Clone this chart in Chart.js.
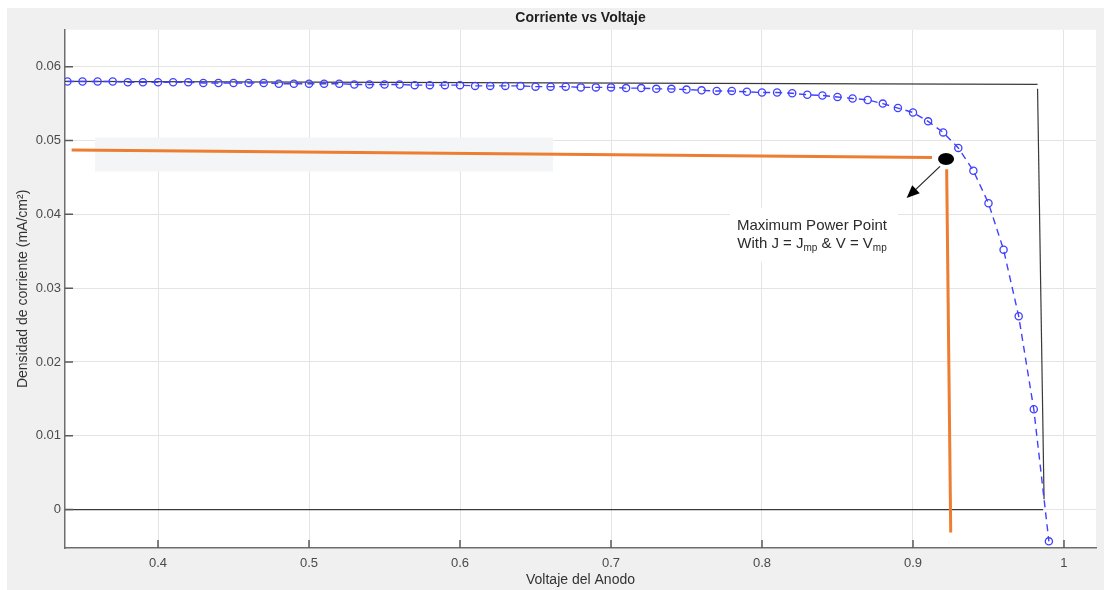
<!DOCTYPE html>
<html>
<head>
<meta charset="utf-8">
<title>Corriente vs Voltaje</title>
<script src="https://cdn.jsdelivr.net/npm/chart.js@4.4.1/dist/chart.umd.min.js"></script>
<style>
  html, body { margin: 0; padding: 0; background: #fff; }
  #wrap { width: 1104px; height: 590px; }
</style>
</head>
<body>
<div id="wrap"><canvas id="ivChart" width="1104" height="590"></canvas></div>
<script>
// Anode voltage sweep (V) and simulated current density (mA/cm²)
const voltage = [
  0.34, 0.35, 0.36, 0.37, 0.38, 0.39, 0.40, 0.41, 0.42, 0.43, 0.44, 0.45,
  0.46, 0.47, 0.48, 0.49, 0.50, 0.51, 0.52, 0.53, 0.54, 0.55,
  0.56, 0.57, 0.58, 0.59, 0.60, 0.61, 0.62, 0.63, 0.64, 0.65,
  0.66, 0.67, 0.68, 0.69, 0.70, 0.71, 0.72, 0.73, 0.74, 0.75,
  0.76, 0.77, 0.78, 0.79, 0.80, 0.81, 0.82, 0.83, 0.84, 0.85,
  0.86, 0.87, 0.88, 0.89, 0.90, 0.91, 0.92, 0.93, 0.94, 0.95,
  0.96, 0.97, 0.98, 0.99
];
const currentDensity = [
  0.0580, 0.0580, 0.0580, 0.0580, 0.0579, 0.0579, 0.0579, 0.0579, 0.0579, 0.0578, 0.0578, 0.0578,
  0.0578, 0.0578, 0.0577, 0.0577, 0.0577, 0.0577, 0.0577, 0.0576, 0.0576, 0.0576,
  0.0576, 0.0575, 0.0575, 0.0575, 0.0575, 0.0574, 0.0574, 0.0574, 0.0574, 0.0573,
  0.0573, 0.0573, 0.0572, 0.0572, 0.0572, 0.0571, 0.0571, 0.0570, 0.0570, 0.0569,
  0.0568, 0.0567, 0.0567, 0.0566, 0.0565, 0.0565, 0.0564, 0.0562, 0.0561, 0.0559,
  0.0557, 0.0555, 0.0550, 0.0544, 0.0538, 0.0526, 0.0511, 0.0490, 0.0459, 0.0415,
  0.0352, 0.0262, 0.0136, -0.0043
];

// ideal (rectangular) J-V outline: top edge, right edge, zero line
const idealTop = [[0.3384, 0.0580], [0.9825, 0.0576]];
const idealEdge = [[0.9825, 0.0570], [0.9868, 0.0014]];
const zeroLine = [[0.3384, 0], [0.9862, 0]];

// maximum power point and its guide lines
const mpp = [0.9219, 0.0475];
const jmpGuide = [[0.3428, 0.0487], [0.9126, 0.0477]];
const vmpGuide = [[0.9223, 0.0461], [0.9250, -0.0031]];
const arrowFrom = [0.9179, 0.0465];
const arrowTo = [0.8958, 0.0422];
const labelAt = [0.8331, 0.0385];
const labelBox = [[0.7788, 0.0409], [0.8901, 0.0336]];
const jmpBand = [[0.3583, 0.0504], [0.6616, 0.0458]];

const xTicks = [0.4, 0.5, 0.6, 0.7, 0.8, 0.9, 1];
const yTicks = [0, 0.01, 0.02, 0.03, 0.04, 0.05, 0.06];

const FONT = '"Liberation Sans", Arial, Helvetica, sans-serif';
const toXY = pairs => pairs.map(([x, y]) => ({ x, y }));

const simple = (pairs, color, width) => ({
  data: toXY(pairs),
  borderColor: color,
  borderWidth: width,
  pointRadius: 0,
  fill: false,
  tension: 0
});

const pix = (chart, [v, j]) => [chart.scales.x.getPixelForValue(v), chart.scales.y.getPixelForValue(j)];

// grey figure frame with white axes box
const frame = {
  id: 'frame',
  beforeDraw(chart) {
    const { ctx, chartArea: a } = chart;
    ctx.save();
    ctx.fillStyle = '#ffffff';
    ctx.fillRect(0, 0, chart.width, chart.height);
    ctx.fillStyle = '#f0f0f0';
    ctx.fillRect(7, 8, chart.width - 7, chart.height - 8);
    ctx.fillStyle = '#ffffff';
    ctx.fillRect(a.left, a.top, a.right - a.left, a.bottom - a.top);
    ctx.restore();
  }
};

const rectFromData = (chart, [p0, p1]) => {
  const [x0, y0] = pix(chart, p0);
  const [x1, y1] = pix(chart, p1);
  return [x0, y0, x1 - x0, y1 - y0];
};

const annotations = {
  id: 'annotations',
  beforeDatasetsDraw(chart) {
    const { ctx } = chart;
    ctx.save();
    ctx.fillStyle = '#f4f5f7';
    ctx.fillRect(...rectFromData(chart, jmpBand));
    ctx.fillStyle = '#ffffff';
    ctx.fillRect(...rectFromData(chart, labelBox));
    ctx.restore();
  },
  afterDatasetsDraw(chart) {
    const { ctx, chartArea: a, scales } = chart;
    ctx.save();

    // inward tick marks
    ctx.strokeStyle = '#5a5a5a';
    ctx.lineWidth = 1.5;
    ctx.beginPath();
    xTicks.forEach(v => {
      const x = scales.x.getPixelForValue(v);
      ctx.moveTo(x, a.bottom);
      ctx.lineTo(x, a.bottom - 8);
    });
    yTicks.forEach(v => {
      const y = scales.y.getPixelForValue(v);
      ctx.moveTo(a.left, y);
      ctx.lineTo(a.left + 8, y);
    });
    ctx.stroke();

    // MPP marker
    const [mx, my] = pix(chart, mpp);
    ctx.fillStyle = '#000';
    ctx.beginPath();
    ctx.ellipse(mx, my, 8, 6, 0, 0, Math.PI * 2);
    ctx.fill();

    // arrow towards label
    const [ax0, ay0] = pix(chart, arrowFrom);
    const [ax1, ay1] = pix(chart, arrowTo);
    const ang = Math.atan2(ay1 - ay0, ax1 - ax0);
    const head = 14;
    ctx.strokeStyle = '#222';
    ctx.lineWidth = 1.2;
    ctx.beginPath();
    ctx.moveTo(ax0, ay0);
    ctx.lineTo(ax1 - Math.cos(ang) * head * 0.8, ay1 - Math.sin(ang) * head * 0.8);
    ctx.stroke();
    ctx.fillStyle = '#000';
    ctx.beginPath();
    ctx.moveTo(ax1, ay1);
    ctx.lineTo(ax1 - head * Math.cos(ang - 0.4), ay1 - head * Math.sin(ang - 0.4));
    ctx.lineTo(ax1 - head * Math.cos(ang + 0.4), ay1 - head * Math.sin(ang + 0.4));
    ctx.closePath();
    ctx.fill();

    // label text, second line with subscripts
    const [lx, ly] = pix(chart, labelAt);
    const big = `15px ${FONT}`;
    const small = `10px ${FONT}`;
    ctx.fillStyle = '#2b2b2b';
    ctx.textBaseline = 'middle';
    ctx.textAlign = 'center';
    ctx.font = big;
    ctx.fillText('Maximum Power Point', lx, ly);

    const parts = [['With J = J', false], ['mp', true], [' & V = V', false], ['mp', true]];
    const widths = parts.map(([t, sub]) => { ctx.font = sub ? small : big; return ctx.measureText(t).width; });
    const total = widths.reduce((s, w) => s + w, 0);
    let x = lx - total / 2;
    const y2 = ly + 18;
    ctx.textAlign = 'left';
    parts.forEach(([t, sub], i) => {
      ctx.font = sub ? small : big;
      ctx.fillText(t, x, sub ? y2 + 5 : y2);
      x += widths[i];
    });

    ctx.restore();
  }
};

const tickFont = { family: FONT, size: 13 };

new Chart(document.getElementById('ivChart'), {
  type: 'line',
  data: {
    datasets: [
      simple(jmpGuide, '#ed7d31', 3),
      simple(vmpGuide, '#ed7d31', 3),
      {
        data: voltage.map((v, i) => ({ x: v, y: currentDensity[i] })),
        borderColor: 'rgb(64, 64, 255)',
        borderWidth: 1.4,
        borderDash: [7, 5],
        pointStyle: 'circle',
        pointRadius: 3.6,
        pointBorderWidth: 1.3,
        pointBorderColor: 'rgb(64, 64, 255)',
        pointBackgroundColor: 'rgba(0, 0, 0, 0)',
        fill: false,
        tension: 0
      },
      simple(idealTop, '#3a3a3a', 1.2),
      simple(idealEdge, '#3a3a3a', 1.2),
      simple(zeroLine, '#3a3a3a', 1.2)
    ]
  },
  options: {
    responsive: false,
    animation: false,
    devicePixelRatio: 1,
    layout: { padding: { left: 7, right: 8, top: 8, bottom: 0 } },
    plugins: {
      legend: { display: false },
      tooltip: { enabled: false },
      title: {
        display: true,
        text: 'Corriente vs Voltaje',
        fullSize: false,
        color: '#1f1f1f',
        font: { family: FONT, size: 14, weight: 'bold' },
        padding: { top: 2, bottom: 3 }
      }
    },
    scales: {
      x: {
        type: 'linear',
        min: 0.3384,
        max: 1.0212,
        afterBuildTicks: s => { s.ticks = xTicks.map(value => ({ value })); },
        afterFit: s => { s.height = 42; },
        grid: { color: '#e4e4e4', lineWidth: 1, drawTicks: false },
        border: { display: true, color: '#6e6e6e', width: 1.5 },
        ticks: {
          padding: 8,
          color: '#4a4a4a',
          font: tickFont,
          maxRotation: 0,
          autoSkip: false,
          callback: v => (v === 1 ? '1' : v.toFixed(1))
        },
        title: {
          display: true,
          text: 'Voltaje del Anodo',
          color: '#333',
          font: { family: FONT, size: 14 },
          padding: { top: 0, bottom: 1 }
        }
      },
      y: {
        type: 'linear',
        min: -0.0052,
        max: 0.065,
        afterBuildTicks: s => { s.ticks = yTicks.map(value => ({ value })); },
        afterFit: s => { s.width = 58; },
        grid: { color: '#e4e4e4', lineWidth: 1, drawTicks: false },
        border: { display: true, color: '#6e6e6e', width: 1.5 },
        ticks: {
          padding: 4,
          color: '#4a4a4a',
          font: tickFont,
          autoSkip: false,
          callback: v => (v === 0 ? '0' : v.toFixed(2))
        },
        title: {
          display: true,
          text: 'Densidad de corriente (mA/cm²)',
          color: '#333',
          font: { family: FONT, size: 14 },
          padding: { top: 8, bottom: 0 }
        }
      }
    }
  },
  plugins: [frame, annotations]
});
</script>
</body>
</html>
